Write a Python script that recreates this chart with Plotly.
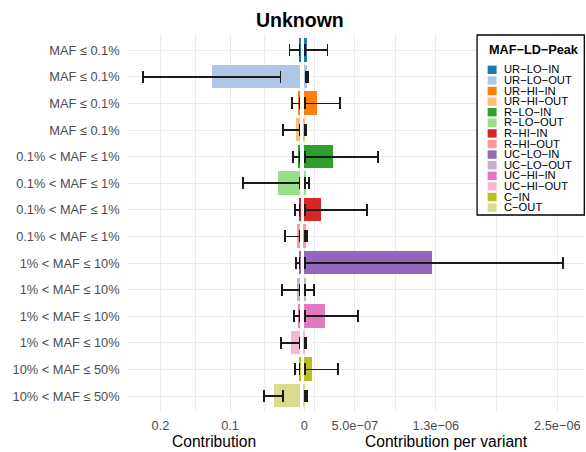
import plotly.graph_objects as go

# ---- data -------------------------------------------------------------
row_labels = [
    "MAF ≤ 0.1%", "MAF ≤ 0.1%", "MAF ≤ 0.1%", "MAF ≤ 0.1%",
    "0.1% < MAF ≤ 1%", "0.1% < MAF ≤ 1%", "0.1% < MAF ≤ 1%", "0.1% < MAF ≤ 1%",
    "1% < MAF ≤ 10%", "1% < MAF ≤ 10%", "1% < MAF ≤ 10%", "1% < MAF ≤ 10%",
    "10% < MAF ≤ 50%", "10% < MAF ≤ 50%",
]
groups = [
    "UR−LO−IN", "UR−LO−OUT", "UR−HI−IN", "UR−HI−OUT",
    "R−LO−IN", "R−LO−OUT", "R−HI−IN", "R−HI−OUT",
    "UC−LO−IN", "UC−LO−OUT", "UC−HI−IN", "UC−HI−OUT",
    "C−IN", "C−OUT",
]
group_colors = [
    "#1F77B4", "#AEC7E8", "#FF7F0E", "#FFBB78",
    "#2CA02C", "#98DF8A", "#D62728", "#FF9896",
    "#9467BD", "#C5B0D5", "#E377C2", "#F7B6D2",
    "#BCBD22", "#DBDB8D",
]

# total contribution with lower / upper interval
contribution = [0.002, 0.127, 0.0036, 0.006, 0.0036, 0.0322, 0.002,
                0.005, 0.002, 0.005, 0.0036, 0.0136, 0.002, 0.038]
contribution_lo = [0.0003, 0.0275, 0.0003, 0.0003, 0.0003, 0.0003, 0.0003,
                   0.0003, 0.0003, 0.0003, 0.0003, 0.0003, 0.0003, 0.0242]
contribution_hi = [0.0146, 0.2247, 0.011, 0.024, 0.0098, 0.081, 0.0064,
                   0.0207, 0.005, 0.0255, 0.0083, 0.0265, 0.0064, 0.0508]

# contribution per variant with lower / upper interval
per_variant = [3.6e-8, 2.7e-8, 1.35e-7, 1.5e-8, 2.9e-7, 2.4e-8, 1.7e-7,
               1.7e-8, 1.264e-6, 2.4e-8, 2.1e-7, 1.3e-8, 8.2e-8, 1.3e-8]
per_variant_lo = [1.0e-8, 1.7e-8, 4e-9, 5e-9, 7e-9, 4e-9, 7e-9,
                  5e-9, 7e-9, 7e-9, 7e-9, 5e-9, 7e-9, 1.0e-8]
per_variant_hi = [2.3e-7, 3.7e-8, 3.55e-7, 2.0e-8, 7.3e-7, 4.6e-8, 6.2e-7,
                  2.5e-8, 2.556e-6, 9.5e-8, 5.3e-7, 2.3e-8, 3.35e-7, 2.7e-8]

left_ticks = [0.0, 0.1, 0.2]
left_tick_text = ["", "0.1", "0.2"]
right_ticks = [0.0, 5.0e-7, 1.3e-6, 2.5e-6]
right_tick_text = ["0", "5.0e−07", "1.3e−06", "2.5e−06"]

# ---- figure geometry helpers -----------------------------------------
W, H = 586, 452
FONT = "Liberation Sans, Arial, sans-serif"
GRID = "#EBEBEB"
TICK_GREY = "#4D4D4D"


def fx(px):
    return px / W


def fy(px):
    return 1 - px / H


rows = list(range(len(row_labels)))


def err(values, lo, hi):
    return dict(type="data", symmetric=False,
                array=[h - v for v, h in zip(values, hi)],
                arrayminus=[v - l for v, l in zip(values, lo)],
                color="#1A1A1A", thickness=1.7, width=6)


fig = go.Figure()
fig.add_trace(go.Bar(
    orientation="h", x=contribution, y=rows, width=0.88,
    marker=dict(color=group_colors, line=dict(width=0)),
    error_x=err(contribution, contribution_lo, contribution_hi),
    xaxis="x", yaxis="y", showlegend=False, hoverinfo="skip",
))
fig.add_trace(go.Bar(
    orientation="h", x=per_variant, y=rows, width=0.88,
    marker=dict(color=group_colors, line=dict(width=0)),
    error_x=err(per_variant, per_variant_lo, per_variant_hi),
    xaxis="x2", yaxis="y2", showlegend=False, hoverinfo="skip",
))

y_dom = [fy(412), fy(34.3)]
tickfont = dict(family=FONT, size=12.8, color=TICK_GREY)

fig.update_layout(
    width=W, height=H,
    margin=dict(l=0, r=0, t=0, b=0),
    paper_bgcolor="white", plot_bgcolor="white",
    font=dict(family=FONT),
    bargap=0,
    xaxis=dict(
        domain=[fx(126), fx(300.3)], range=[0.2473, -0.00244],
        tickmode="array", tickvals=left_ticks, ticktext=left_tick_text,
        tickfont=tickfont, ticks="", ticklabelstandoff=4,
        showgrid=True, gridcolor=GRID, gridwidth=1.3,
        minor=dict(tickvals=[0.05, 0.15], showgrid=True,
                   gridcolor=GRID, gridwidth=0.8),
        zeroline=False, showline=False, anchor="y",
    ),
    xaxis2=dict(
        domain=[fx(301.5), fx(584)], range=[-1.77e-8, 2.763e-6],
        tickmode="array", tickvals=right_ticks, ticktext=right_tick_text,
        tickfont=tickfont, ticks="", ticklabelstandoff=4,
        showgrid=True, gridcolor=GRID, gridwidth=1.3,
        minor=dict(tickvals=[1.0e-7, 9.0e-7, 1.9e-6], showgrid=True,
                   gridcolor=GRID, gridwidth=0.8),
        zeroline=False, showline=False, anchor="y2",
    ),
    yaxis=dict(
        domain=y_dom, range=[13.6, -0.6],
        tickmode="array", tickvals=rows, ticktext=row_labels,
        tickfont=tickfont, ticks="", ticklabelstandoff=7,
        showgrid=True, gridcolor=GRID, gridwidth=1.3,
        zeroline=False, showline=False, anchor="x",
    ),
    yaxis2=dict(
        domain=y_dom, range=[13.6, -0.6], matches="y",
        tickvals=rows, showticklabels=False, ticks="",
        showgrid=True, gridcolor=GRID, gridwidth=1.3,
        zeroline=False, showline=False, anchor="x2",
    ),
)

annotations = [
    dict(text="<b>Unknown</b>", x=fx(299.5), y=fy(20.5),
         font=dict(family=FONT, size=19.5, color="black")),
    dict(text="Contribution", x=fx(213), y=fy(441),
         font=dict(family=FONT, size=15.6, color="black")),
    dict(text="Contribution per variant", x=fx(446), y=fy(441),
         font=dict(family=FONT, size=15.6, color="black")),
]
for a in annotations:
    a.update(xref="paper", yref="paper", xanchor="center", yanchor="middle",
             showarrow=False)

# legend panel drawn inside the top-right corner
shapes = [dict(type="rect", xref="paper", yref="paper",
               x0=fx(476.7), x1=fx(584.3), y0=fy(215), y1=fy(35),
               line=dict(color="black", width=1.3), fillcolor="white",
               layer="above")]
annotations.append(dict(
    text="<b>MAF−LD−Peak</b>", x=fx(486.5), y=fy(50),
    xref="paper", yref="paper", xanchor="left", yanchor="middle",
    showarrow=False, font=dict(family=FONT, size=12.7, color="black")))
for i, (name, col) in enumerate(zip(groups, group_colors)):
    cy = 69.8 + i * 10.6
    shapes.append(dict(type="rect", xref="paper", yref="paper",
                       x0=fx(487.3), x1=fx(496.3),
                       y0=fy(cy + 4.2), y1=fy(cy - 4.2),
                       line=dict(width=0), fillcolor=col, layer="above"))
    annotations.append(dict(
        text=name, x=fx(501.5), y=fy(cy - 0.5),
        xref="paper", yref="paper", xanchor="left", yanchor="middle",
        showarrow=False, font=dict(family=FONT, size=11.2, color="black")))

fig.update_layout(shapes=shapes, annotations=annotations)

fig.write_html("out.html")
